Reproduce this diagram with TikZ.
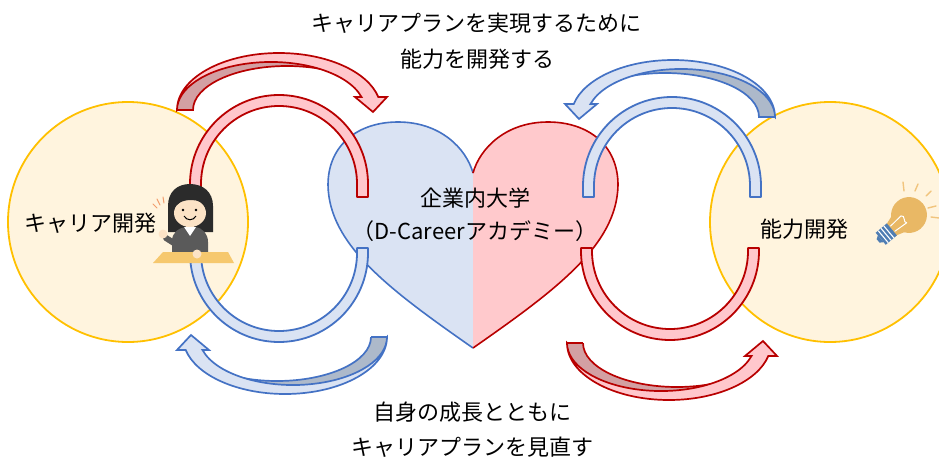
\documentclass[tikz,border=0pt]{standalone}
\usepackage{fontspec}
\setmainfont{Noto Sans CJK JP}

\definecolor{circleline}{HTML}{FFC000}
\definecolor{circlefill}{HTML}{FFF4DE}
\definecolor{redline}{HTML}{B80000}
\definecolor{redfront}{HTML}{FFC7CC}
\definecolor{redback}{HTML}{D3A0A3}
\definecolor{blueline}{HTML}{4472C4}
\definecolor{bluefront}{HTML}{DAE3F3}
\definecolor{blueback}{HTML}{ADB9CA}
\definecolor{heartpink}{HTML}{FFC9CC}
\definecolor{hair}{HTML}{2B2B2B}
\definecolor{skin}{HTML}{FCE3C6}
\definecolor{suit}{HTML}{5A5A5A}
\definecolor{desk}{HTML}{F6C86E}
\definecolor{wave}{HTML}{F29C6B}
\definecolor{glass}{HTML}{E9B865}
\definecolor{bulbbase}{HTML}{4F7DB3}
\definecolor{ray}{HTML}{F1C47D}

% curved block arrow: tail at (-102,0)..(-86,0), head near (94,-2)
% #1 placement, #2 outline, #3 front face, #4 back face
\newcommand{\swoosh}[4]{%
  \begin{scope}[#1]
    \begin{scope}
      \clip (0,0) ellipse [x radius=102, y radius=57];
      \clip (-110,0) rectangle (60,60);
      \fill[#4, even odd rule] (-130,-60) rectangle (120,80)
        (8,0) ellipse [x radius=94, y radius=44];
      \draw[#2, line width=1.7pt] (8,0) ellipse [x radius=94, y radius=44];
    \end{scope}
    \draw[#2, line width=1.7pt] (-102,0) -- (-86,0);
    \draw[#2, fill=#3, line width=1.7pt, line join=miter]
      (-102,0) arc[start angle=180, end angle=13.2, x radius=102, y radius=57]
      -- (108,13) -- (94,-2) -- (76,13) -- (82.5,13)
      arc[start angle=15.7, end angle=180, x radius=94, y radius=48] -- cycle;
  \end{scope}}

\begin{document}
\begin{tikzpicture}[x=1pt, y=-1pt,
  lbl/.style={font=\fontsize{22}{26}\selectfont, text=black, inner sep=0pt, anchor=base},
  redband/.style={draw=redline, fill=redfront, line width=1.8pt, line join=round},
  blueband/.style={draw=blueline, fill=bluefront, line width=1.8pt, line join=round},
  bigcircle/.style={draw=circleline, fill=circlefill, line width=1.8pt}]
\useasboundingbox (0,0) rectangle (939,463);

% the two circles
\draw[bigcircle] (128,222) circle (120);
\draw[bigcircle] (830,222) circle (120);

% heart, left half blue and right half pink
\fill[bluefront] (473,348) .. controls (390,290) and (329,245) .. (328,185)
  .. controls (328,145) and (358,122) .. (398,122)
  .. controls (440,122) and (466,148) .. (473,173) -- cycle;
\fill[heartpink] (473,348) .. controls (556,290) and (617,245) .. (618,185)
  .. controls (618,145) and (588,122) .. (548,122)
  .. controls (506,122) and (480,148) .. (473,173) -- cycle;
\draw[blueline, line width=1.6pt] (473,348) .. controls (390,290) and (329,245) .. (328,185)
  .. controls (328,145) and (358,122) .. (398,122)
  .. controls (440,122) and (466,148) .. (473,173);
\draw[redline, line width=1.6pt] (473,348) .. controls (556,290) and (617,245) .. (618,185)
  .. controls (618,145) and (588,122) .. (548,122)
  .. controls (506,122) and (480,148) .. (473,173);

% ring bands linking circles and heart
\draw[redband] (190,197) -- (190,184) arc[start angle=180, end angle=360, radius=89]
  -- (368,197) -- (357,197) -- (357,184) arc[start angle=360, end angle=180, radius=78]
  -- (201,197) -- cycle;
\draw[blueband] (368,248) -- (368,253) arc[start angle=0, end angle=180, radius=89]
  -- (190,248) -- (201,248) -- (201,253) arc[start angle=180, end angle=0, radius=78]
  -- (357,248) -- cycle;
\draw[blueband] (583,197) -- (583,186) arc[start angle=180, end angle=360, radius=89]
  -- (761,197) -- (750,197) -- (750,186) arc[start angle=360, end angle=180, radius=78]
  -- (594,197) -- cycle;
\draw[redband] (759,248) -- (759,251) arc[start angle=0, end angle=180, radius=89]
  -- (581,248) -- (592,248) -- (592,251) arc[start angle=180, end angle=0, radius=78]
  -- (748,248) -- cycle;

% person at the desk
\fill[hair] (168,232) -- (168,206) .. controls (168,192) and (177,184) .. (190,184)
  .. controls (203,184) and (213,192) .. (213,206) -- (213,232) -- cycle;
\fill[skin] (190,213) ellipse [x radius=16, y radius=14];
\fill[hair] (174,210) .. controls (172,194) and (180,189) .. (190,189)
  .. controls (200,189) and (208,194) .. (206,210)
  .. controls (204,202) and (198,200) .. (191,200)
  .. controls (183,200) and (176,203) .. (174,210) -- cycle;
\fill[black] (183,210) circle (1.4) (196,210) circle (1.4);
\draw[black, line width=1pt] (184,216) .. controls (187,221) and (193,221) .. (196,216);
\fill[skin] (186,224) rectangle (194,229);
\fill[suit] (172,255) -- (172,241) .. controls (172,233) and (178,228) .. (186,227)
  -- (195,227) .. controls (203,228) and (208,234) .. (208,242) -- (208,255) -- cycle;
\fill[white] (184,227) -- (196,227) -- (190,236) -- cycle;
\draw[suit, line width=6pt, line cap=round] (177,245) -- (166,238);
\fill[skin] (163,234) circle (4.5);
\fill[desk] (163,252) -- (228,252) -- (234,263) -- (153,263) -- cycle;
\fill[skin] (197,254) circle (4.5);
\draw[wave, line width=1pt, line cap=round] (153,204) -- (157,208) (157,199) -- (160,205) (163,197) -- (164,203);

% light bulb
\begin{scope}[shift={(909,215)}, rotate=-50, scale=1.12]
  \fill[glass] (0,0) circle (16);
  \fill[glass] (-10,10) -- (10,10) -- (6.5,21) -- (-6.5,21) -- cycle;
  \fill[bulbbase] (-7,20) rectangle (7,33);
  \draw[white, line width=1.1pt] (-7,23.5) -- (7,23.5) (-7,26.8) -- (7,26.8) (-7,30.1) -- (7,30.1);
  \fill[bulbbase] (-4,33) -- (4,33) -- (2,36) -- (-2,36) -- cycle;
  \draw[white, line width=1pt, line cap=round] (-3,19) -- (-4,6) (3,19) -- (4,6)
    (-4,6) .. controls (-2,2) and (2,9) .. (4,6);
\end{scope}
\draw[ray, line width=1.4pt, line cap=round]
  (903,182) -- (904,191) (918,184) -- (915,191) (931,191) -- (926,196)
  (936,206) -- (928,208) (939,218) -- (931,217);

% curved arrows
\swoosh{shift={(279,110)}, yscale=-1}{redline}{redfront}{redback}
\swoosh{shift={(673,117)}, xscale=-1, yscale=-1}{blueline}{bluefront}{blueback}
\swoosh{shift={(285,337)}, xscale=-1}{blueline}{bluefront}{blueback}
\swoosh{shift={(669,343)}}{redline}{redfront}{redback}

% labels
\node[lbl] (top1) at (476,31) {キャリアプランを実現するために};
\node[lbl] (top2) at (477,67) {能力を開発する};
\node[lbl] (bot1) at (472,420) {自身の成長とともに};
\node[lbl] (bot2) at (472,455) {キャリアプランを見直す};
\node[lbl] (uni1) at (475,206) {企業内大学};
\node[lbl] (uni2) at (475,239) {（D-Careerアカデミー）};
\node[lbl] (left) at (90,231) {キャリア開発};
\node[lbl] (right) at (804,237) {能力開発};
\end{tikzpicture}
\end{document}
